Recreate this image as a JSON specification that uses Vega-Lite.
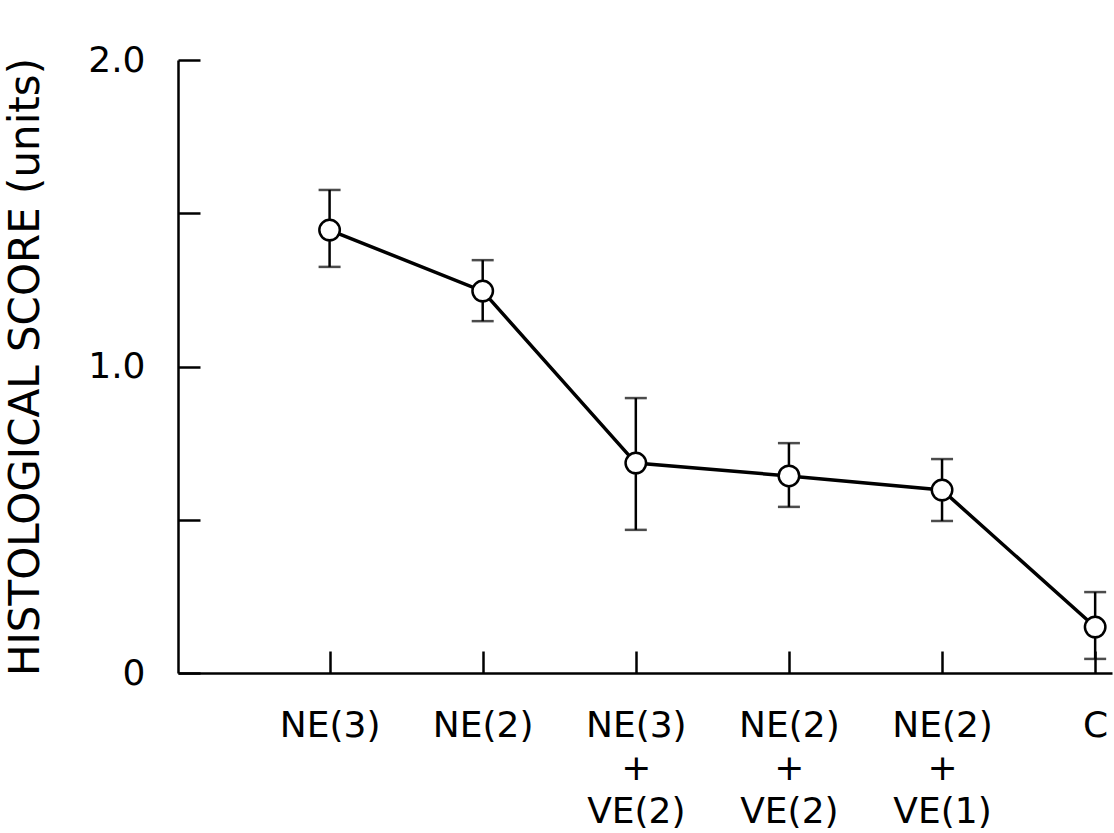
{
  "$schema": "https://vega.github.io/schema/vega-lite/v6.json",
  "width": 934,
  "height": 613,
  "autosize": "none",
  "padding": {"left": 178, "top": 60, "right": 2, "bottom": 160},
  "background": "white",
  "config": {
    "view": {"stroke": null},
    "font": "DejaVu Sans",
    "axis": {"grid": false, "domainColor": "black", "tickColor": "black", "labelColor": "black", "titleColor": "black", "domainWidth": 2.5, "tickWidth": 2.5, "labelFont": "DejaVu Sans", "titleFont": "DejaVu Sans", "titleFontWeight": "normal"}
  },
  "data": {
    "values": [
      {"group": "NE(3)", "score": 1.445, "lo": 1.325, "hi": 1.576},
      {"group": "NE(2)", "score": 1.246, "lo": 1.148, "hi": 1.347},
      {"group": "NE(3) + VE(2)", "score": 0.685, "lo": 0.467, "hi": 0.897},
      {"group": "NE(2) + VE(2)", "score": 0.643, "lo": 0.542, "hi": 0.750},
      {"group": "NE(2) + VE(1)", "score": 0.597, "lo": 0.496, "hi": 0.698},
      {"group": "C", "score": 0.150, "lo": 0.046, "hi": 0.264}
    ]
  },
  "encoding": {
    "x": {
      "field": "group",
      "type": "nominal",
      "sort": null,
      "scale": {"type": "point", "padding": 0.55, "align": 0.9},
      "axis": {
        "title": null,
        "labelAngle": 0,
        "tickSize": -22,
        "labelPadding": 57,
        "labelFontSize": 36,
        "labelLineHeight": 43,
        "labelBaseline": "top",
        "labelExpr": "indexof(datum.label, ' + ') >= 0 ? [split(datum.label, ' + ')[0], '+', split(datum.label, ' + ')[1]] : datum.label"
      }
    }
  },
  "layer": [
    {
      "mark": {"type": "rule", "color": "black", "strokeWidth": 2.5},
      "encoding": {
        "y": {"field": "lo", "type": "quantitative"},
        "y2": {"field": "hi"}
      }
    },
    {
      "mark": {"type": "tick", "color": "black", "size": 22, "thickness": 2.5},
      "encoding": {"y": {"field": "hi", "type": "quantitative"}}
    },
    {
      "mark": {"type": "tick", "color": "black", "size": 22, "thickness": 2.5},
      "encoding": {"y": {"field": "lo", "type": "quantitative"}}
    },
    {
      "mark": {"type": "line", "color": "black", "strokeWidth": 3.5},
      "encoding": {
        "y": {
          "field": "score",
          "type": "quantitative",
          "scale": {"domain": [0, 2], "nice": false},
          "axis": {
            "title": "HISTOLOGICAL SCORE (units)",
            "titleFontSize": 42,
            "titlePadding": 40,
            "values": [0, 0.5, 1, 1.5, 2],
            "tickSize": -22,
            "labelPadding": 55,
            "labelFontSize": 36,
            "labelExpr": "datum.value == 0 ? '0' : (datum.value % 1 == 0 ? format(datum.value, '.1f') : '')"
          }
        }
      }
    },
    {
      "mark": {"type": "point", "shape": "circle", "filled": true, "fill": "white", "stroke": "black", "strokeWidth": 2.5, "size": 420, "opacity": 1},
      "encoding": {"y": {"field": "score", "type": "quantitative"}}
    }
  ]
}
